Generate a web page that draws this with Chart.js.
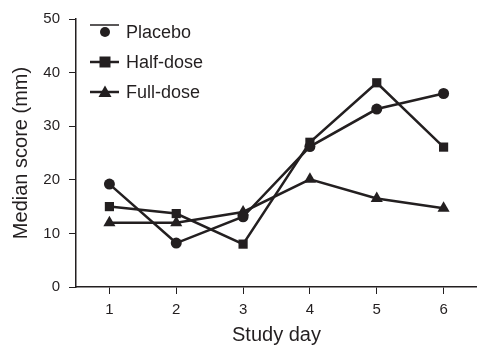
<!DOCTYPE html>
<html><head><meta charset="utf-8">
<script src="https://cdn.jsdelivr.net/npm/chart.js@4/dist/chart.umd.min.js"></script>
<style>html,body{margin:0;padding:0;background:#fff}#wrap{width:477px;height:345px}canvas{display:block}</style>
</head><body><div id="wrap"><canvas id="c" width="477" height="345"></canvas></div>
<script>
const days = ['1','2','3','4','5','6'];
const placebo = [19.2, 8.2, 13.1, 26.2, 33.2, 36.1];
const halfDose = [15.0, 13.7, 8.0, 27.0, 38.1, 26.1];
const fullDose = [12.0, 12.0, 14.0, 20.1, 16.5, 14.7];
const yTicks = [0, 10, 20, 30, 40, 50];
const ink = '#231f20';
const font = 'Liberation Sans, Arial, sans-serif';

const legendPlugin = {
  id: 'inlineLegend',
  afterDraw(chart) {
    const ctx = chart.ctx;
    const rows = [
      {label: chart.data.datasets[0].label, style: 'circle', lineY: 25, markY: 32},
      {label: chart.data.datasets[1].label, style: 'rect', lineY: 62, markY: 62},
      {label: chart.data.datasets[2].label, style: 'triangle', lineY: 92, markY: 92}
    ];
    ctx.save();
    ctx.strokeStyle = ink; ctx.fillStyle = ink;
    rows.forEach(r => {
      ctx.lineWidth = r.style === 'circle' ? 1.5 : 2.5;
      ctx.beginPath(); ctx.moveTo(90, r.lineY); ctx.lineTo(119, r.lineY); ctx.stroke();
      const x = 105, y = r.markY;
      ctx.beginPath();
      if (r.style === 'circle') ctx.arc(x, y, 5, 0, Math.PI * 2);
      else if (r.style === 'rect') ctx.rect(x - 5.5, y - 5.5, 11, 11);
      else { ctx.moveTo(x, y - 6.5); ctx.lineTo(x + 6.5, y + 5); ctx.lineTo(x - 6.5, y + 5); ctx.closePath(); }
      ctx.fill();
      ctx.font = '18px ' + font;
      ctx.textBaseline = 'middle'; ctx.textAlign = 'left';
      ctx.fillText(r.label, 126, r.markY + 1);
    });
    ctx.restore();
  }
};

const ds = (label, data, style, radius) => ({
  label, data, borderColor: ink, backgroundColor: ink, borderWidth: 2.5,
  pointStyle: style, pointRadius: radius, pointHoverRadius: radius,
  pointBorderWidth: 0, pointBackgroundColor: ink, tension: 0, fill: false, clip: false
});

new Chart(document.getElementById('c'), {
  type: 'line',
  data: {
    labels: days,
    datasets: [
      ds('Placebo', placebo, 'circle', 5.5),
      ds('Half-dose', halfDose, 'rect', 6.5),
      ds('Full-dose', fullDose, 'triangle', 7)
    ]
  },
  options: {
    responsive: false, animation: false, devicePixelRatio: 1,
    layout: {autoPadding: false, padding: {top: 19, right: 0, left: 0, bottom: 0}},
    plugins: {legend: {display: false}, tooltip: {enabled: false}},
    scales: {
      x: {
        type: 'category', offset: true,
        grid: {display: true, drawOnChartArea: false, drawTicks: true, tickLength: 7, color: ink, lineWidth: 1},
        border: {display: true, color: ink, width: 1.5},
        ticks: {color: ink, font: {family: font, size: 15}, padding: 7, maxRotation: 0},
        title: {display: true, text: 'Study day', color: ink, font: {family: font, size: 20}, padding: {top: 8, bottom: -2}},
        afterFit(s) { s.height = 58; s.paddingLeft = 0; s.paddingRight = 0; }
      },
      y: {
        min: 0, max: 50,
        afterBuildTicks(s) { s.ticks = yTicks.map(v => ({value: v})); },
        grid: {display: true, drawOnChartArea: false, drawTicks: true, tickLength: 7, color: ink, lineWidth: 1},
        border: {display: true, color: ink, width: 1.5},
        ticks: {color: ink, font: {family: font, size: 15}, padding: 9},
        title: {display: true, text: 'Median score (mm)', color: ink, font: {family: font, size: 20}, padding: {top: 9, bottom: 4}},
        afterFit(s) { s.width = 76; s.paddingTop = 0; s.paddingBottom = 0; }
      }
    }
  },
  plugins: [legendPlugin]
});
</script></body></html>
